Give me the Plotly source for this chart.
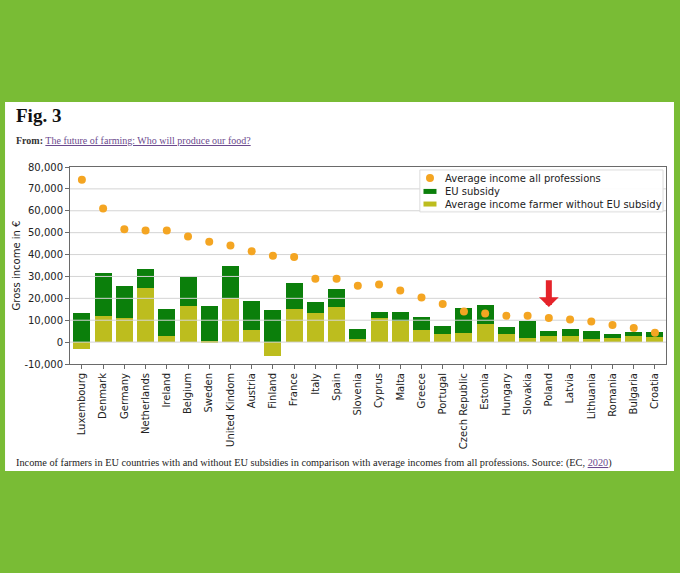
import plotly.graph_objects as go

# farmer income per EU country (EUR)
countries = ["Luxembourg", "Denmark", "Germany", "Netherlands", "Ireland", "Belgium",
             "Sweden", "United Kindom", "Austria", "Finland", "France", "Italy", "Spain",
             "Slovenia", "Cyprus", "Malta", "Greece", "Portugal", "Czech Republic",
             "Estonia", "Hungary", "Slovakia", "Poland", "Latvia", "Lithuania",
             "Romania", "Bulgaria", "Croatia"]

income_with_subsidy = [13100, 31500, 25700, 33200, 15200, 29800, 16700, 34700, 18900,
                       14600, 27200, 18400, 24200, 5800, 13700, 13700, 11600, 7300,
                       15800, 16800, 6700, 9700, 5200, 6200, 5200, 3500, 4700, 4700]

income_without_subsidy = [-3000, 11900, 11000, 24500, 3000, 16700, 200, 20200, 5600,
                          -6200, 15200, 13100, 16100, 1500, 11000, 9700, 5600, 3700,
                          4100, 8400, 3500, 1800, 2600, 3000, 1500, 2000, 2700, 2400]

avg_income_all = [74200, 61000, 51600, 51000, 51000, 48200, 45800, 44100, 41500,
                  39500, 38900, 28900, 28900, 25700, 26300, 23600, 20400, 17400,
                  14000, 13100, 12000, 12000, 11000, 10300, 9400, 7800, 6400, 4300]

y_ticks = [-10000, 0, 10000, 20000, 30000, 40000, 50000, 60000, 70000, 80000]
y_tick_labels = ["-10,000", "0", "10,000", "20,000", "30,000", "40,000",
                 "50,000", "60,000", "70,000", "80,000"]

legend_labels = ["Average income all professions", "EU subsidy",
                 "Average income farmer without EU subsidy"]

highlight = "Poland"

GREEN = "#0b7f0b"
OLIVE = "#bdbd1e"
ORANGE = "#f4a522"
GRID = "#d4d4d4"
FRAME = "#6a6a6a"
BG = "#79bc35"
X_RANGE = [-0.56, 27.52]

xs = list(range(len(countries)))

fig = go.Figure()

fig.add_trace(go.Bar(x=xs, y=income_with_subsidy, name=legend_labels[1],
                     marker=dict(color=GREEN, line=dict(width=0)), width=0.8))
fig.add_trace(go.Bar(x=xs, y=income_without_subsidy, name=legend_labels[2],
                     marker=dict(color=OLIVE, line=dict(width=0)), width=0.8))

# gridlines sit over the bars in the original, so draw them as a line trace
gx, gy = [], []
for v in y_ticks[1:-1]:
    gx += [X_RANGE[0], X_RANGE[1], None]
    gy += [v, v, None]
fig.add_trace(go.Scatter(x=gx, y=gy, mode="lines", line=dict(color=GRID, width=1),
                         hoverinfo="skip"))

fig.add_trace(go.Scatter(x=xs, y=avg_income_all, mode="markers", name=legend_labels[0],
                         marker=dict(color=ORANGE, size=8, line=dict(width=0))))

pol = countries.index(highlight)
fig.add_annotation(x=pol, y=16000, ax=pol, ay=29000, xref="x", yref="y",
                   axref="x", ayref="y", text="", showarrow=True,
                   arrowhead=1, arrowwidth=6, arrowsize=0.55, arrowcolor="#e5232a")

# matplotlib-like compact legend (plotly's own rows are too tall)
fig.add_shape(type="rect", xref="paper", yref="paper", x0=0.587, x1=0.995,
              y0=0.772, y1=0.985, fillcolor="rgba(255,255,255,0.9)",
              line=dict(color="#dcdcdc", width=1), layer="above")
row_y = [0.944, 0.876, 0.812]
fig.add_shape(type="circle", xref="paper", yref="paper", xsizemode="pixel",
              ysizemode="pixel", xanchor=0.604, yanchor=row_y[0], x0=-4, x1=4,
              y0=-4, y1=4, fillcolor=ORANGE, line=dict(width=0), layer="above")
for ry, col in zip(row_y[1:], [GREEN, OLIVE]):
    fig.add_shape(type="rect", xref="paper", yref="paper", xsizemode="pixel",
                  ysizemode="pixel", xanchor=0.604, yanchor=ry, x0=-6.5, x1=6.5,
                  y0=-2.5, y1=2.5, fillcolor=col, line=dict(width=0), layer="above")
for ry, label in zip(row_y, legend_labels):
    fig.add_annotation(xref="paper", yref="paper", x=0.625, y=ry, xanchor="left",
                       yanchor="middle", showarrow=False, text=label,
                       font=dict(size=10, color="#222"))

serif = "Liberation Serif"
fig.add_annotation(xref="paper", yref="paper", x=-0.094, y=1.262, xanchor="left",
                   yanchor="middle", showarrow=False,
                   text="<b>Fig. 3</b>", font=dict(family=serif, size=19, color="#111"))
fig.add_annotation(xref="paper", yref="paper", x=-0.094, y=1.132, xanchor="left",
                   yanchor="middle", showarrow=False,
                   text="<b>From:</b> <span style='color:#6b4a8e'><u>The future of farming: "
                        "Who will produce our food?</u></span>",
                   font=dict(family=serif, size=10, color="#333"))
fig.add_annotation(xref="paper", yref="paper", x=-0.094, y=-0.503, xanchor="left",
                   yanchor="middle", showarrow=False,
                   text="Income of farmers in EU countries with and without EU subsidies in "
                        "comparison with average incomes from all professions. Source: (EC, "
                        "<span style='color:#6b4a8e'><u>2020</u></span>)",
                   font=dict(family=serif, size=10.3, color="#222"))

# white page panel on the green background
fig.add_shape(type="rect", xref="paper", yref="paper", x0=-0.109, x1=1.0134,
              y0=-0.543, y1=1.330, fillcolor="white", line=dict(width=0), layer="below")

fig.update_layout(
    width=680, height=573,
    margin=dict(l=70, r=14, t=167, b=209),
    paper_bgcolor=BG,
    plot_bgcolor="rgba(0,0,0,0)",
    barmode="overlay",
    bargap=0,
    font=dict(family="DejaVu Sans", size=10, color="#222"),
    showlegend=False,
)

fig.update_xaxes(range=X_RANGE, tickvals=xs, ticktext=countries, tickangle=-90,
                 showgrid=False, zeroline=False, showline=True, linecolor=FRAME,
                 linewidth=1, mirror=True, ticks="outside", ticklen=4, tickcolor=FRAME,
                 tickfont=dict(size=10))
fig.update_yaxes(range=[y_ticks[0], y_ticks[-1]], tickvals=y_ticks,
                 ticktext=y_tick_labels, showgrid=False, zeroline=False, showline=True,
                 linecolor=FRAME, linewidth=1, mirror=True, ticks="outside", ticklen=4,
                 tickcolor=FRAME, tickfont=dict(size=10),
                 title=dict(text="Gross income in €", font=dict(size=10), standoff=1))

fig.write_html("out.html", config={"displayModeBar": False},
               post_script="document.body.style.margin='0';"
                           "document.body.style.background='" + BG + "';")
